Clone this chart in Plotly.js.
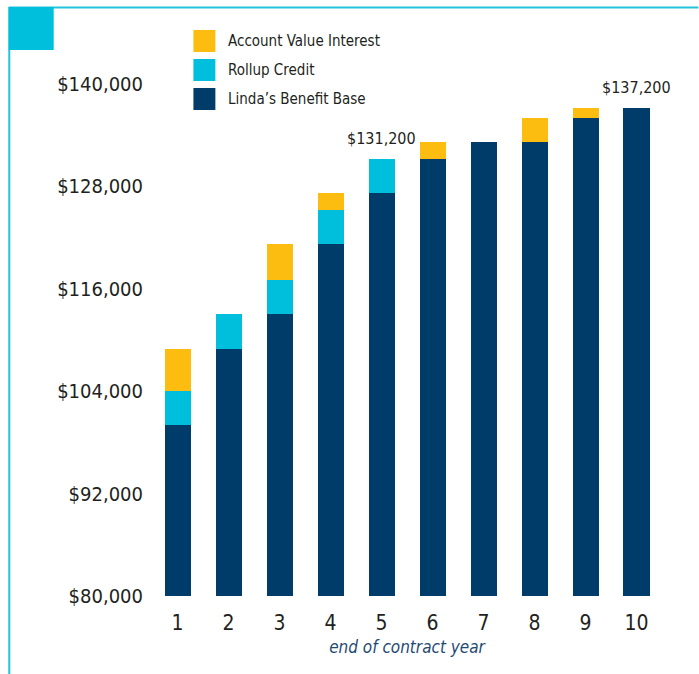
<!DOCTYPE html>
<html>
<head>
<meta charset="utf-8">
<script src="https://cdn.plot.ly/plotly-3.0.1.min.js"></script>
<style>html,body{margin:0;padding:0;background:#fff;}#chart{width:699px;height:674px;}</style>
</head>
<body>
<div id="chart"></div>
<script>
const years = ["1","2","3","4","5","6","7","8","9","10"];
const benefitBase = [100000,109000,113000,121200,127200,131200,133200,133200,136000,137200];
const rollupCredit = [4000,4000,4000,4000,4000,0,0,0,0,0];
const accountValueInterest = [5000,0,4200,2000,0,2000,0,2800,1200,0];
const seriesNames = ["Account Value Interest","Rollup Credit","Linda\u2019s Benefit Base"];
const yTicks = [80000,92000,104000,116000,128000,140000];
const yTickLabels = ["$80,000","$92,000","$104,000","$116,000","$128,000","$140,000"];
const calloutYears = ["5","10"];
const calloutLabels = ["$131,200","$137,200"];

const NAVY = "#003c69", TEAL = "#00bfdc", GOLD = "#fdbd10", FRAME = "#22c3dd";
const FONT = '"Liberation Sans Narrow","DejaVu Sans Condensed","Roboto Condensed",sans-serif';
const W = 699, H = 674;
const M = {l:151.5, r:36.5, t:67, b:78};
const PW = W - M.l - M.r, PH = H - M.t - M.b;
const px = x => (x - M.l) / PW;
const py = y => (H - M.b - y) / PH;

const traces = [
  {type:"bar", x:years, y:benefitBase, name:seriesNames[2], marker:{color:NAVY}, hoverinfo:"y"},
  {type:"bar", x:years, y:rollupCredit, name:seriesNames[1], marker:{color:TEAL}, hoverinfo:"y"},
  {type:"bar", x:years, y:accountValueInterest, name:seriesNames[0], marker:{color:GOLD}, hoverinfo:"y"}
];

const shapes = [
  {type:"line", xref:"paper", yref:"paper", x0:px(8), x1:px(699), y0:py(7.5), y1:py(7.5), line:{color:FRAME, width:2}},
  {type:"line", xref:"paper", yref:"paper", x0:px(8.5), x1:px(8.5), y0:py(7), y1:py(674), line:{color:FRAME, width:2}},
  {type:"rect", xref:"paper", yref:"paper", x0:px(8), x1:px(53), y0:py(7), y1:py(50), fillcolor:TEAL, line:{width:0}}
];
const legendColors = [GOLD, TEAL, NAVY];
const legendTops = [30, 59, 88];
const annotations = [];
legendTops.forEach((t,i)=>{
  shapes.push({type:"rect", xref:"paper", yref:"paper", x0:px(193), x1:px(215), y0:py(t), y1:py(t+22), fillcolor:legendColors[i], line:{width:0}});
  annotations.push({xref:"paper", yref:"paper", x:px(226), y:py(t+11), text:seriesNames[i], showarrow:false, xanchor:"left", yanchor:"middle", font:{family:FONT, size:15, color:"#231f20"}});
});
calloutYears.forEach((yr,i)=>{
  const idx = years.indexOf(yr);
  const total = benefitBase[idx] + rollupCredit[idx] + accountValueInterest[idx];
  annotations.push({x:idx, y:total, text:calloutLabels[i], showarrow:false, xanchor:"center", yanchor:"bottom", yshift:9, font:{family:FONT, size:16, color:"#231f20"}});
});

const layout = {
  width:W, height:H,
  margin:M,
  barmode:"stack",
  bargap:0.49,
  showlegend:false,
  paper_bgcolor:"#fff", plot_bgcolor:"#fff",
  font:{family:FONT, color:"#231f20"},
  xaxis:{type:"category", range:[-0.5,9.5], showgrid:false, zeroline:false, showline:false, ticks:"", ticklabelstandoff:12,
    tickfont:{family:FONT, size:21, color:"#231f20"},
    title:{text:"end of contract year", font:{family:FONT, size:17, color:"#1f4a72", style:"italic"}, standoff:7}},
  yaxis:{range:[80000,142000], tickvals:yTicks, ticktext:yTickLabels, showgrid:false, zeroline:false, showline:false, ticks:"", ticklabelstandoff:8,
    tickfont:{family:FONT, size:20, color:"#231f20"}},
  shapes:shapes,
  annotations:annotations
};
Plotly.newPlot("chart", traces, layout, {displayModeBar:false, staticPlot:true});
</script>
</body>
</html>
